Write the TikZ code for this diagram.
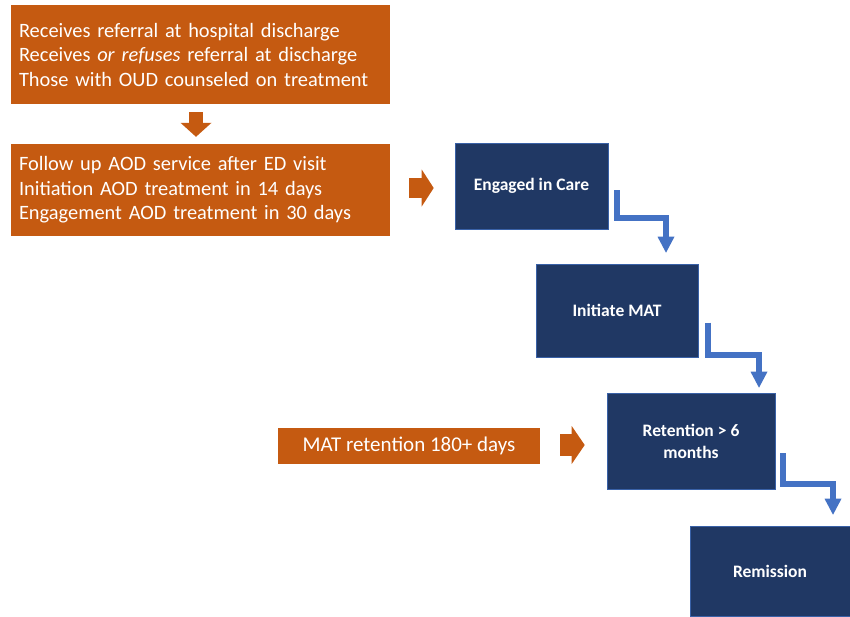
\documentclass[tikz,border=0pt]{standalone}
\usepackage{fontspec}
\setmainfont{Carlito}
\usetikzlibrary{arrows.meta}
\definecolor{rust}{HTML}{C55A11}
\definecolor{navy}{HTML}{203864}
\definecolor{steel}{HTML}{4472C4}

\begin{document}
\begin{tikzpicture}[x=1pt,y=-1pt,
  orangebox/.style={fill=rust,text=white,inner sep=0pt,font=\fontsize{20.4}{24.5}\selectfont},
  navybox/.style={fill=navy,draw=steel!70!navy,line width=0.6pt,text=white,inner sep=0pt,align=center,font=\fontsize{17.5}{22}\selectfont\bfseries},
  blockarrow/.style={rust,-{Triangle[line width=0pt,#1]}},
  bent/.style={steel,line width=6pt,-{Triangle[line width=0pt,width=17pt,length=16pt]}}]
\useasboundingbox (0,0) rectangle (850,616);
\node[orangebox,minimum width=379pt,minimum height=99pt,text width=363pt,align=left] (referral) at (200.5,54.5)
  {Receives referral at hospital discharge\\Receives \textit{or refuses} referral at discharge\\Those with OUD counseled on treatment};
\node[orangebox,minimum width=379pt,minimum height=92pt,text width=363pt,align=left] (followup) at (200.5,190)
  {Follow up AOD service after ED visit\\Initiation AOD treatment in 14 days\\Engagement AOD treatment in 30 days};
\node[orangebox,minimum width=262pt,minimum height=36pt,font=\fontsize{21}{24}\selectfont] (matret) at (409,446) {MAT retention 180+ days};
\node[navybox,minimum width=153pt,minimum height=86pt] (engaged) at (531.5,186) {Engaged in Care};
\node[navybox,minimum width=162pt,minimum height=93pt] (initiate) at (617,310.5) {Initiate MAT};
\node[navybox,minimum width=168pt,minimum height=96pt] (retention) at (691,441) {Retention > 6\\months};
\node[navybox,minimum width=160pt,minimum height=90pt] (remission) at (770,571) {Remission};
\draw[blockarrow={width=31pt,length=14pt},line width=14pt] ([xshift=-4.5pt,yshift=-8pt]referral.south) -- ([xshift=-4.5pt,yshift=7pt]followup.north);
\draw[blockarrow={width=37pt,length=12pt},line width=20pt] ([xshift=19pt,yshift=2pt]followup.east) -- ([xshift=-21pt,yshift=-2pt]engaged.west);
\draw[blockarrow={width=38pt,length=13pt},line width=22pt] ([xshift=20pt,yshift=1pt]matret.east) -- ([xshift=-22pt,yshift=-4pt]retention.west);
\draw[bent] ([xshift=9pt,yshift=-4pt]engaged.east) -- ++(0,28) -| ([xshift=49pt,yshift=11pt]initiate.north);
\draw[bent] ([xshift=10pt,yshift=-12pt]initiate.east) -- ++(0,32) -| ([xshift=68pt,yshift=5pt]retention.north);
\draw[bent] ([xshift=8pt,yshift=-12pt]retention.east) -- ++(0,31) -| ([xshift=63pt,yshift=11pt]remission.north);
\end{tikzpicture}
\end{document}
